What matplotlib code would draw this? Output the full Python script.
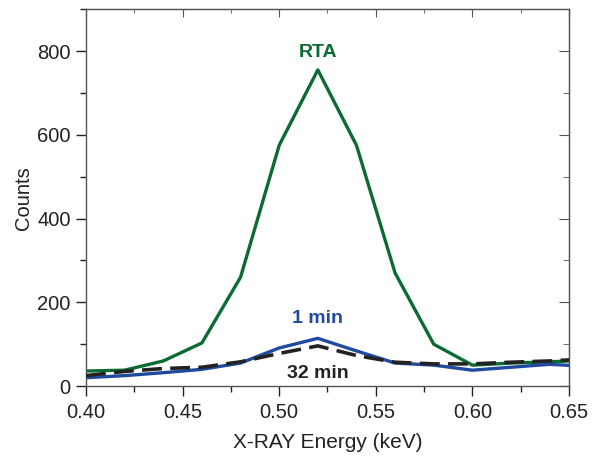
import matplotlib
matplotlib.use("Agg")
import matplotlib.pyplot as plt
from matplotlib.ticker import MultipleLocator

plt.rcParams['font.family'] = ['Liberation Sans', 'DejaVu Sans']

energy = [0.40, 0.42, 0.44, 0.46, 0.48, 0.50, 0.52, 0.54, 0.56, 0.58, 0.60, 0.62, 0.64, 0.66]
rta = [36, 38, 60, 103, 260, 575, 755, 575, 270, 100, 50, 55, 58, 62]
one_min = [20, 25, 32, 40, 55, 91, 114, 84, 55, 50, 38, 45, 52, 47]
min32 = [25, 35, 42, 45, 58, 78, 96, 73, 57, 53, 53, 57, 60, 65]

green = '#0b6b32'
blue = '#1f4aa0'
black = '#222222'

fig = plt.figure(figsize=(6.04, 4.58), dpi=100)
ax = fig.add_axes([0.1424, 0.157, 0.7996, 0.823])

ax.plot(energy, rta, color=green, lw=2.4, zorder=2)
ax.plot(energy, min32, color=black, lw=2.6, ls=(0, (5.5, 2.3)), zorder=3)
ax.plot(energy, one_min, color=blue, lw=2.4, zorder=2)

ax.set_xlim(0.40, 0.65)
ax.set_ylim(0, 900)
ax.xaxis.set_major_locator(MultipleLocator(0.05))
ax.xaxis.set_minor_locator(MultipleLocator(0.025))
ax.yaxis.set_major_locator(MultipleLocator(200))
ax.yaxis.set_minor_locator(MultipleLocator(100))
ax.xaxis.set_major_formatter(plt.FuncFormatter(lambda v, p: f"{v:.2f}"))

ax.tick_params(which='both', direction='out', top=False, right=False, labelsize=14.5, colors='#222222')
ax.tick_params(which='major', length=7, width=1)
ax.tick_params(which='minor', length=4, width=1)
ax.tick_params(axis='y', pad=4)
ax.tick_params(axis='x', pad=5)
for s in ax.spines.values():
    s.set_color('#555555')
    s.set_linewidth(1.0)

ax2 = ax.secondary_yaxis('right')
ax2.yaxis.set_major_locator(MultipleLocator(200))
ax2.yaxis.set_minor_locator(MultipleLocator(100))
ax2.tick_params(which='both', direction='in', labelright=False, colors='#555555')
ax2.tick_params(which='major', length=7)
ax2.tick_params(which='minor', length=4)
ax2.spines['right'].set_color('#333333')

ax3 = ax.secondary_xaxis('top')
ax3.xaxis.set_major_locator(MultipleLocator(0.05))
ax3.xaxis.set_minor_locator(MultipleLocator(0.025))
ax3.tick_params(which='both', direction='in', labeltop=False, colors='#555555')
ax3.tick_params(which='major', length=6)
ax3.tick_params(which='minor', length=3)
ax3.spines['top'].set_color('#555555')

ax.set_xlabel('X-RAY Energy (keV)', fontsize=15, color='#222222', labelpad=8)
ax.set_ylabel('Counts', fontsize=14.5, color='#222222', labelpad=3)

ax.text(0.52, 796, 'RTA', color=green, fontsize=14, fontweight='bold', ha='center', va='center')
ax.text(0.52, 162, '1 min', color=blue, fontsize=14, fontweight='bold', ha='center', va='center')
ax.text(0.52, 30, '32 min', color=black, fontsize=14, fontweight='bold', ha='center', va='center')

fig.savefig('out.png', dpi=100)
